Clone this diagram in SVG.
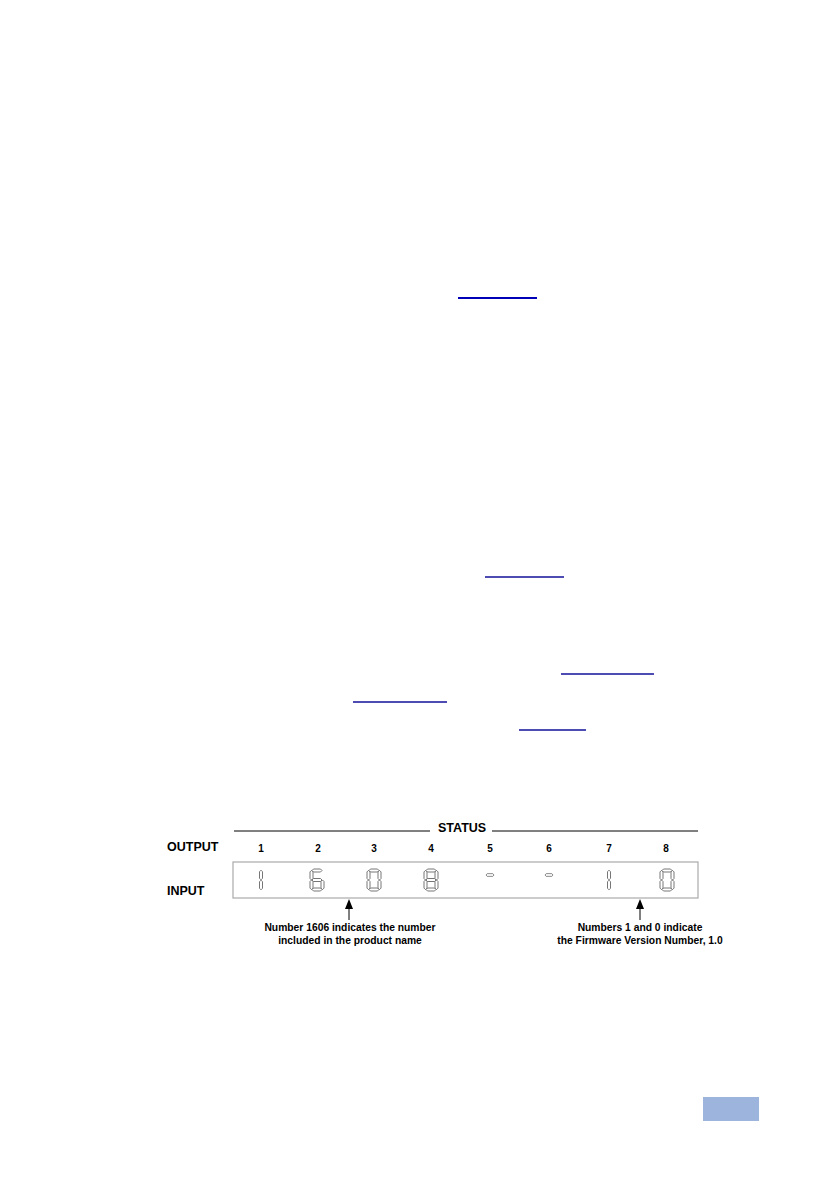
<svg xmlns="http://www.w3.org/2000/svg" xmlns:xlink="http://www.w3.org/1999/xlink" width="839" height="1191" viewBox="0 0 839 1191">
<style>
.lbl{font-family:"Liberation Sans",Arial,sans-serif;font-weight:bold;font-size:12.5px;fill:#000}
.num{font-family:"Liberation Sans",Arial,sans-serif;font-weight:bold;font-size:10px;fill:#000;text-anchor:middle}
.cap{font-family:"Liberation Sans",Arial,sans-serif;font-weight:bold;font-size:10.3px;fill:#000;text-anchor:middle}
.seg{fill:#fff;stroke:#666;stroke-width:0.9}
.link{stroke:#10109a;stroke-width:1.5}
</style>
<defs>
<polygon id="h" class="seg" points="-5,0 -3.5,-1.5 3.5,-1.5 5,0 3.5,1.5 -3.5,1.5"/>
<polygon id="v" class="seg" points="0,-4.8 1.5,-3.3 1.5,3.3 0,4.8 -1.5,3.3 -1.5,-3.3"/>
</defs>
<rect width="839" height="1191" fill="#fff"/>
<g id="links">
<line class="link" x1="458" y1="298" x2="537" y2="298" style="stroke-width:2;stroke:#0000b8"/>
<line class="link" x1="485" y1="577" x2="564" y2="577"/>
<line class="link" x1="561" y1="674" x2="654" y2="674"/>
<line class="link" x1="353" y1="702" x2="447" y2="702"/>
<line class="link" x1="519" y1="730" x2="586" y2="730"/>
</g>
<g id="status-header">
<line x1="234" y1="831" x2="430" y2="831" stroke="#000" stroke-width="1"/>
<text class="lbl" x="438" y="832">STATUS</text>
<line x1="492" y1="831" x2="698" y2="831" stroke="#000" stroke-width="1"/>
</g>
<g id="output-row">
<text class="lbl" x="167" y="851">OUTPUT</text>
<text class="num" x="261" y="852">1</text>
<text class="num" x="318" y="852">2</text>
<text class="num" x="374" y="852">3</text>
<text class="num" x="431" y="852">4</text>
<text class="num" x="490" y="852">5</text>
<text class="num" x="549" y="852">6</text>
<text class="num" x="609" y="852">7</text>
<text class="num" x="666" y="852">8</text>
</g>
<g id="input-label">
<text class="lbl" x="167" y="895">INPUT</text>
</g>
<g id="display">
<rect x="233" y="862" width="465" height="36" fill="#fff" stroke="#aaa" stroke-width="1.2"/>
<g transform="translate(261,869)">
<use xlink:href="#v" x="0" y="6"/>
<use xlink:href="#v" x="0" y="16"/>
</g>
<g transform="translate(310,869)">
<use xlink:href="#h" x="7" y="1.5"/>
<use xlink:href="#h" x="7" y="11"/>
<use xlink:href="#h" x="7" y="20.5"/>
<use xlink:href="#v" x="1.5" y="6.2"/>
<use xlink:href="#v" x="1.5" y="15.8"/>
<use xlink:href="#v" x="12.5" y="15.8"/>
</g>
<g transform="translate(367,869)">
<use xlink:href="#h" x="7" y="1.5"/>
<use xlink:href="#h" x="7" y="20.5"/>
<use xlink:href="#v" x="1.5" y="6.2"/>
<use xlink:href="#v" x="1.5" y="15.8"/>
<use xlink:href="#v" x="12.5" y="6.2"/>
<use xlink:href="#v" x="12.5" y="15.8"/>
</g>
<g transform="translate(424,869)">
<use xlink:href="#h" x="7" y="1.5"/>
<use xlink:href="#h" x="7" y="11"/>
<use xlink:href="#h" x="7" y="20.5"/>
<use xlink:href="#v" x="1.5" y="6.2"/>
<use xlink:href="#v" x="1.5" y="15.8"/>
<use xlink:href="#v" x="12.5" y="6.2"/>
<use xlink:href="#v" x="12.5" y="15.8"/>
</g>
<g transform="translate(490,875) scale(0.8,0.9)"><use xlink:href="#h"/></g>
<g transform="translate(549,875) scale(0.8,0.9)"><use xlink:href="#h"/></g>
<g transform="translate(609,869)">
<use xlink:href="#v" x="0" y="6"/>
<use xlink:href="#v" x="0" y="16"/>
</g>
<g transform="translate(660,869)">
<use xlink:href="#h" x="7" y="1.5"/>
<use xlink:href="#h" x="7" y="20.5"/>
<use xlink:href="#v" x="1.5" y="6.2"/>
<use xlink:href="#v" x="1.5" y="15.8"/>
<use xlink:href="#v" x="12.5" y="6.2"/>
<use xlink:href="#v" x="12.5" y="15.8"/>
</g>
</g>
<g id="connectors">
<line x1="349" y1="906" x2="349" y2="920" stroke="#000" stroke-width="1"/>
<polygon points="349,899 345,909 353,909" fill="#000"/>
<line x1="640" y1="906" x2="640" y2="920" stroke="#000" stroke-width="1"/>
<polygon points="640,899 636,909 644,909" fill="#000"/>
</g>
<g id="note-product">
<text class="cap" x="350" y="931">Number 1606 indicates the number</text>
<text class="cap" x="350" y="944">included in the product name</text>
</g>
<g id="note-firmware">
<text class="cap" x="640" y="931">Numbers 1 and 0 indicate</text>
<text class="cap" x="640" y="944">the Firmware Version Number, 1.0</text>
</g>
<g id="page-tab">
<rect x="703" y="1097" width="56" height="24" fill="#9db5dc"/>
</g>
</svg>
